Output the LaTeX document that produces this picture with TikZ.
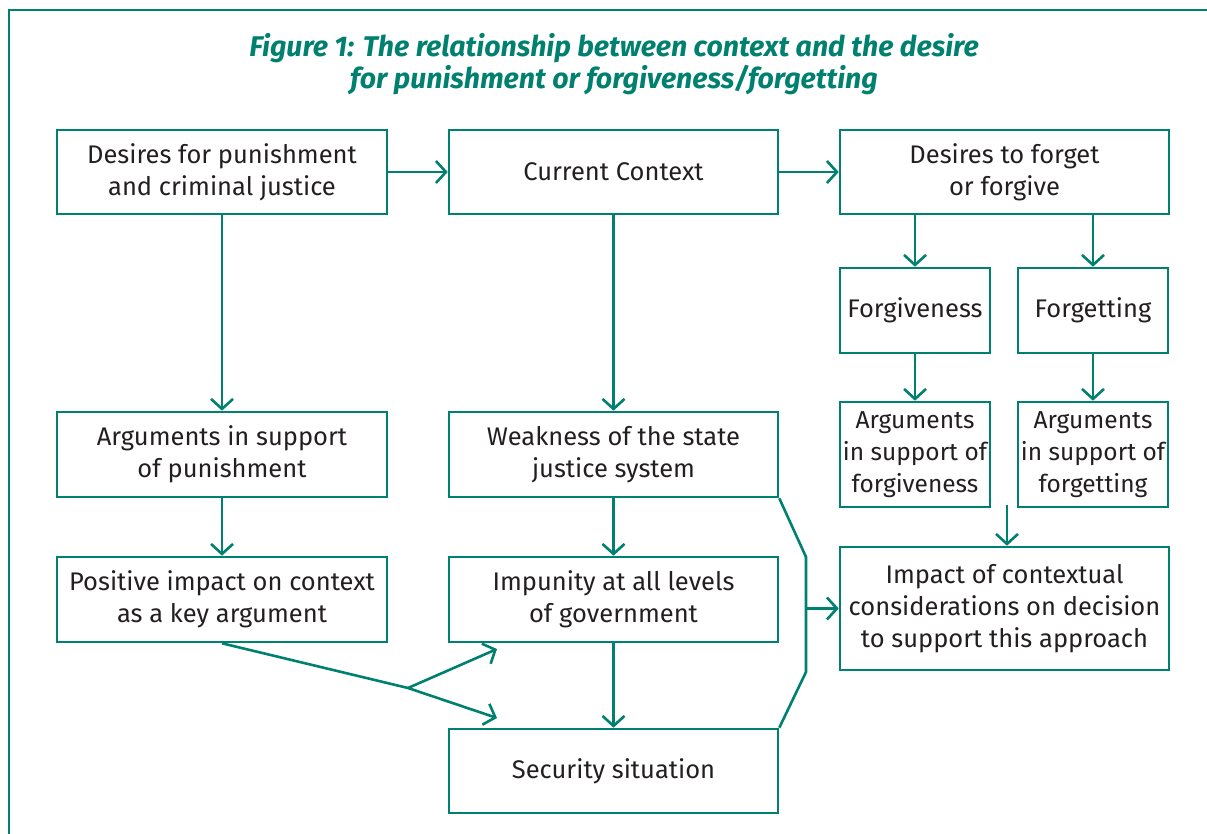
\documentclass[tikz,border=0pt]{standalone}
\usepackage{fontspec}
\setmainfont{Fira Sans}
\usetikzlibrary{arrows.meta}
\definecolor{teal1}{RGB}{0,128,110}
\definecolor{txt}{RGB}{35,31,32}
\tikzset{
  box/.style={draw=teal1, line width=2.6pt, rectangle, align=center, text=txt,
    font=\fontsize{25.5}{32}\selectfont, inner sep=2pt},
  arr/.style={draw=teal1, line width=2.6pt, -{Straight Barb[length=10pt,width=22pt,line width=2.6pt]}},
  ln/.style={draw=teal1, line width=2.6pt},
}
\begin{document}
\begin{tikzpicture}[x=1pt,y=-1pt]
\useasboundingbox (0,0) rectangle (1207,834);
\draw[ln] (9,834) -- (9,10) -- (1207,10);
\node[font=\fontsize{28.5}{32}\selectfont\bfseries\itshape, text=teal1, align=center] (T) at (614,64)
  {Figure 1: The relationship between context and the desire\\for punishment or forgiveness/forgetting};
\node[box, minimum width=330pt, minimum height=84pt] (A) at (222,172) {Desires for punishment\\and criminal justice};
\node[box, minimum width=329pt, minimum height=84pt] (B) at (613.5,172) {Current Context};
\node[box, minimum width=329pt, minimum height=84pt] (C) at (1004.5,172) {Desires to forget\\or forgive};
\node[box, minimum width=150pt, minimum height=85pt] (F1) at (915,310.5) {Forgiveness};
\node[box, minimum width=150pt, minimum height=85pt] (F2) at (1093,310.5) {Forgetting};
\node[box, minimum width=150pt, minimum height=105pt, inner sep=0pt, font=\fontsize{24.5}{32}\selectfont] (G1) at (915,454.5) {Arguments\\in support of\\forgiveness};
\node[box, minimum width=150pt, minimum height=105pt, inner sep=0pt, font=\fontsize{24.5}{32}\selectfont] (G2) at (1093,454.5) {Arguments\\in support of\\forgetting};
\node[box, minimum width=330pt, minimum height=85pt] (P1) at (222,454.5) {Arguments in support\\of punishment};
\node[box, minimum width=329pt, minimum height=85pt] (W) at (613.5,454.5) {Weakness of the state\\justice system};
\node[box, minimum width=330pt, minimum height=85pt] (P2) at (222,599.5) {Positive impact on context\\as a key argument};
\node[box, minimum width=329pt, minimum height=85pt] (I) at (613.5,599.5) {Impunity at all levels\\of government};
\node[box, minimum width=329pt, minimum height=84pt] (S) at (613.5,771) {Security situation};
\node[box, minimum width=329pt, minimum height=123pt] (M) at (1004.5,608.5) {Impact of contextual\\considerations on decision\\to support this approach};
% arrows
\draw[arr] (A.east) -- (B.west);
\draw[arr] (B.east) -- (C.west);
\draw[arr] (A.south) -- (P1.north);
\draw[arr] (B.south) -- (W.north);
\draw[arr] (C.south -| F1.north) -- (F1.north);
\draw[arr] (C.south -| F2.north) -- (F2.north);
\draw[arr] (F1.south) -- (G1.north);
\draw[arr] (F2.south) -- (G2.north);
\coordinate (g) at (1007,505);
\draw[arr] (g) -- (g |- M.north);
\draw[arr] (P1.south) -- (P2.north);
\draw[arr] (W.south) -- (I.north);
\draw[arr] (I.south) -- (S.north);
% bracket
\coordinate (b1) at (806,557);
\coordinate (b2) at (806,672);
\coordinate (b3) at (806,608.5);
\draw[ln, line join=miter] (W.south east) -- (b1) -- (b2) -- (S.north east);
\draw[arr] (b3) -- (M.west);
% branch
\coordinate (br) at (408,688);
\coordinate (t1) at (497,649);
\coordinate (t2) at (497,718);
\draw[ln] (P2.south) -- (br);
\draw[arr] (br) -- (t1);
\draw[arr] (br) -- (t2);
\end{tikzpicture}
\end{document}
